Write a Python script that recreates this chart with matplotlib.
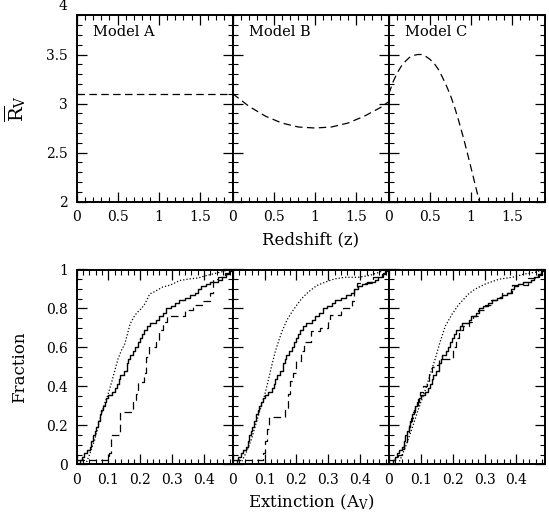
import matplotlib
matplotlib.use("Agg")
import matplotlib.pyplot as plt
from matplotlib.ticker import MultipleLocator, FuncFormatter
import matplotlib.transforms as mtransforms

plt.rcParams['font.family'] = ['DejaVu Serif']
plt.rcParams['mathtext.fontset'] = 'dejavuserif'

# ---------------- data ----------------
models = ["Model A", "Model B", "Model C"]

# top row: mean R_V versus redshift
zA = [0.0, 1.9]
rA = [3.1, 3.1]
zB = [0.0, 0.2, 0.4, 0.6, 0.8, 1.0, 1.2, 1.4, 1.6, 1.8, 1.9]
rB = [3.10, 2.97, 2.87, 2.80, 2.76, 2.75, 2.76, 2.80, 2.87, 2.96, 3.02]
zC = [0.0, 0.05, 0.1, 0.15, 0.2, 0.25, 0.3, 0.35, 0.4, 0.45, 0.5, 0.55, 0.6,
      0.65, 0.7, 0.75, 0.8, 0.85, 0.9, 0.95, 1.0, 1.05, 1.1]
rC = [3.10, 3.22, 3.31, 3.38, 3.43, 3.47, 3.49, 3.50, 3.50, 3.48, 3.45, 3.41, 3.35,
      3.27, 3.18, 3.08, 2.96, 2.82, 2.67, 2.51, 2.34, 2.17, 2.00]

# bottom row: cumulative fraction versus extinction
# solid (same observed sample in all panels), step function
solid_x = [0.0, 0.012, 0.018, 0.025, 0.033, 0.041, 0.047, 0.052, 0.058, 0.062, 0.067,
           0.073, 0.078, 0.083, 0.089, 0.094, 0.100, 0.112, 0.122, 0.128, 0.134,
           0.138, 0.148, 0.157, 0.163, 0.168, 0.178, 0.185, 0.192, 0.198, 0.205,
           0.212, 0.222, 0.230, 0.250, 0.258, 0.272, 0.282, 0.295, 0.310, 0.322,
           0.340, 0.355, 0.372, 0.382, 0.392, 0.405, 0.420, 0.445, 0.455, 0.468,
           0.478, 0.485]
solid_f = [0.0, 0.02, 0.04, 0.056, 0.075, 0.09, 0.12, 0.15, 0.17, 0.19, 0.22,
           0.26, 0.28, 0.30, 0.32, 0.34, 0.355, 0.37, 0.39, 0.41, 0.44,
           0.46, 0.48, 0.52, 0.54, 0.56, 0.58, 0.60, 0.63, 0.65, 0.67,
           0.69, 0.71, 0.725, 0.74, 0.76, 0.775, 0.80, 0.815, 0.83, 0.845,
           0.855, 0.87, 0.88, 0.90, 0.915, 0.925, 0.935, 0.945, 0.96, 0.975,
           0.99, 1.0]

# dotted curves (smooth)
dotA_x = [0.025, 0.030, 0.041, 0.057, 0.073, 0.088, 0.099, 0.110, 0.120, 0.130, 0.141,
          0.152, 0.168, 0.183, 0.194, 0.204, 0.215, 0.230, 0.246, 0.270, 0.294, 0.325,
          0.357, 0.383, 0.400, 0.430, 0.460, 0.478]
dotA_f = [0.0, 0.005, 0.05, 0.125, 0.23, 0.31, 0.36, 0.42, 0.48, 0.54, 0.585,
          0.62, 0.72, 0.765, 0.785, 0.80, 0.825, 0.875, 0.887, 0.91, 0.92, 0.944,
          0.952, 0.957, 0.966, 0.978, 0.99, 1.0]
dotB_x = [0.025, 0.027, 0.043, 0.059, 0.075, 0.090, 0.100, 0.110, 0.120, 0.133, 0.143,
          0.154, 0.170, 0.185, 0.200, 0.216, 0.237, 0.264, 0.290, 0.320, 0.352, 0.395,
          0.430, 0.460, 0.480]
dotB_f = [0.0, 0.01, 0.063, 0.13, 0.22, 0.30, 0.354, 0.42, 0.49, 0.576, 0.627,
          0.68, 0.74, 0.78, 0.815, 0.85, 0.884, 0.918, 0.935, 0.952, 0.96, 0.96,
          0.97, 0.986, 1.0]
dotC_x = [0.029, 0.050, 0.072, 0.093, 0.114, 0.135, 0.145, 0.161, 0.177, 0.198, 0.219,
          0.250, 0.271, 0.303, 0.345, 0.387, 0.429, 0.460, 0.485]
dotC_f = [0.0, 0.08, 0.18, 0.285, 0.38, 0.49, 0.54, 0.63, 0.71, 0.77, 0.82,
          0.875, 0.90, 0.926, 0.95, 0.96, 0.978, 0.986, 1.0]

# dashed curves (model predictions), step functions
dashA_x = [0.0, 0.103, 0.108, 0.138, 0.178, 0.186, 0.194, 0.212, 0.218, 0.226, 0.250,
           0.258, 0.272, 0.285, 0.340, 0.365, 0.395, 0.420, 0.428, 0.445, 0.465, 0.480]
dashA_f = [0.02, 0.06, 0.15, 0.27, 0.33, 0.36, 0.42, 0.47, 0.55, 0.60, 0.63,
           0.69, 0.73, 0.76, 0.79, 0.82, 0.84, 0.88, 0.95, 0.96, 0.98, 1.0]
dashB_x = [0.0, 0.095, 0.100, 0.108, 0.115, 0.165, 0.172, 0.180, 0.188, 0.200, 0.215,
           0.225, 0.245, 0.275, 0.300, 0.305, 0.340, 0.345, 0.375, 0.380, 0.390, 0.440,
           0.470, 0.480]
dashB_f = [0.02, 0.06, 0.12, 0.18, 0.245, 0.29, 0.36, 0.43, 0.47, 0.53, 0.58,
           0.63, 0.685, 0.70, 0.74, 0.765, 0.79, 0.80, 0.84, 0.90, 0.93, 0.96,
           0.98, 1.0]
dashC_x = [0.0, 0.020, 0.030, 0.040, 0.048, 0.056, 0.062, 0.068, 0.075, 0.082, 0.090,
           0.098, 0.108, 0.118, 0.126, 0.135, 0.150, 0.158, 0.200, 0.210, 0.220, 0.232,
           0.250, 0.265, 0.280, 0.300, 0.320, 0.340, 0.355, 0.385, 0.437, 0.470, 0.480]
dashC_f = [0.02, 0.03, 0.05, 0.08, 0.11, 0.16, 0.20, 0.24, 0.27, 0.30, 0.34,
           0.37, 0.40, 0.43, 0.47, 0.50, 0.51, 0.54, 0.60, 0.65, 0.69, 0.71,
           0.73, 0.76, 0.79, 0.82, 0.845, 0.86, 0.88, 0.92, 0.955, 0.97, 1.0]

top_curves = [(zA, rA), (zB, rB), (zC, rC)]
dotted = [(dotA_x, dotA_f), (dotB_x, dotB_f), (dotC_x, dotC_f)]
dashed = [(dashA_x, dashA_f), (dashB_x, dashB_f), (dashC_x, dashC_f)]

# ---------------- layout ----------------
W, H = 549, 516
fig = plt.figure(figsize=(W / 100, H / 100), dpi=100)

left_px = 76.5
pw = 156.2
top_row = (15.3, 201.5)
bot_row = (269.5, 464.3)

fmt = FuncFormatter(lambda v, p: "%g" % v)
dash_style = (0, (6, 3.5))


def style(ax):
    for s in ax.spines.values():
        s.set_linewidth(1.4)
    ax.tick_params(which='both', direction='in', top=True, right=True,
                   labelsize=10, pad=6, colors='black')
    ax.tick_params(which='major', length=7.5, width=0.9)
    ax.tick_params(which='minor', length=3.8, width=0.8)
    ax.xaxis.set_major_formatter(fmt)
    ax.yaxis.set_major_formatter(fmt)


for i in range(3):
    x0 = (left_px + i * pw) / W
    # top row
    ax = fig.add_axes([x0, 1 - top_row[1] / H, pw / W, (top_row[1] - top_row[0]) / H])
    z, r = top_curves[i]
    ax.plot(z, r, color='black', lw=0.9, ls=dash_style)
    ax.set_xlim(0, 1.9)
    ax.set_ylim(2, 3.9)
    ax.xaxis.set_major_locator(MultipleLocator(0.5))
    ax.xaxis.set_minor_locator(MultipleLocator(0.1))
    ax.yaxis.set_major_locator(MultipleLocator(0.5))
    ax.yaxis.set_minor_locator(MultipleLocator(0.1))
    style(ax)
    ax.text(0.2, 3.73, models[i], fontsize=10.5, ha='left', va='center')
    if i == 0:
        ax.set_ylabel(r'$\overline{\mathrm{R}}_{\mathrm{V}}$', fontsize=14)
        ax.yaxis.set_label_coords(-0.31, 0.5)
        trans = mtransforms.blended_transform_factory(ax.transAxes, ax.transData)
        ax.text(-0.06, 4.0, "4", transform=trans, ha='right', va='center',
                fontsize=10, clip_on=False)
    else:
        ax.set_yticklabels([])

    # bottom row
    ax2 = fig.add_axes([x0, 1 - bot_row[1] / H, pw / W, (bot_row[1] - bot_row[0]) / H])
    ax2.plot(solid_x, solid_f, color='black', lw=1.0, drawstyle='steps-post')
    dx, df = dotted[i]
    ax2.plot(dx, df, color='black', lw=0.9, ls=(0, (1, 1.6)))
    sx, sf = dashed[i]
    ax2.plot(sx, sf, color='black', lw=0.9, ls=dash_style, drawstyle='steps-post')
    ax2.set_xlim(0, 0.49)
    ax2.set_ylim(0, 1)
    ax2.xaxis.set_major_locator(MultipleLocator(0.1))
    ax2.xaxis.set_minor_locator(MultipleLocator(0.02))
    ax2.yaxis.set_major_locator(MultipleLocator(0.2))
    ax2.yaxis.set_minor_locator(MultipleLocator(0.05))
    style(ax2)
    if i == 0:
        ax2.set_ylabel("Fraction", fontsize=12)
        ax2.yaxis.set_label_coords(-0.31, 0.5)
    else:
        ax2.set_yticklabels([])

cx = (left_px + 1.5 * pw) / W
fig.text(cx, 1 - 240 / H, "Redshift (z)", ha='center', va='center', fontsize=12)
fig.text(cx, 1 - 502 / H, r"Extinction (A$_{\mathrm{V}}$)", ha='center', va='center',
         fontsize=12)

fig.savefig("out.png", dpi=100)
